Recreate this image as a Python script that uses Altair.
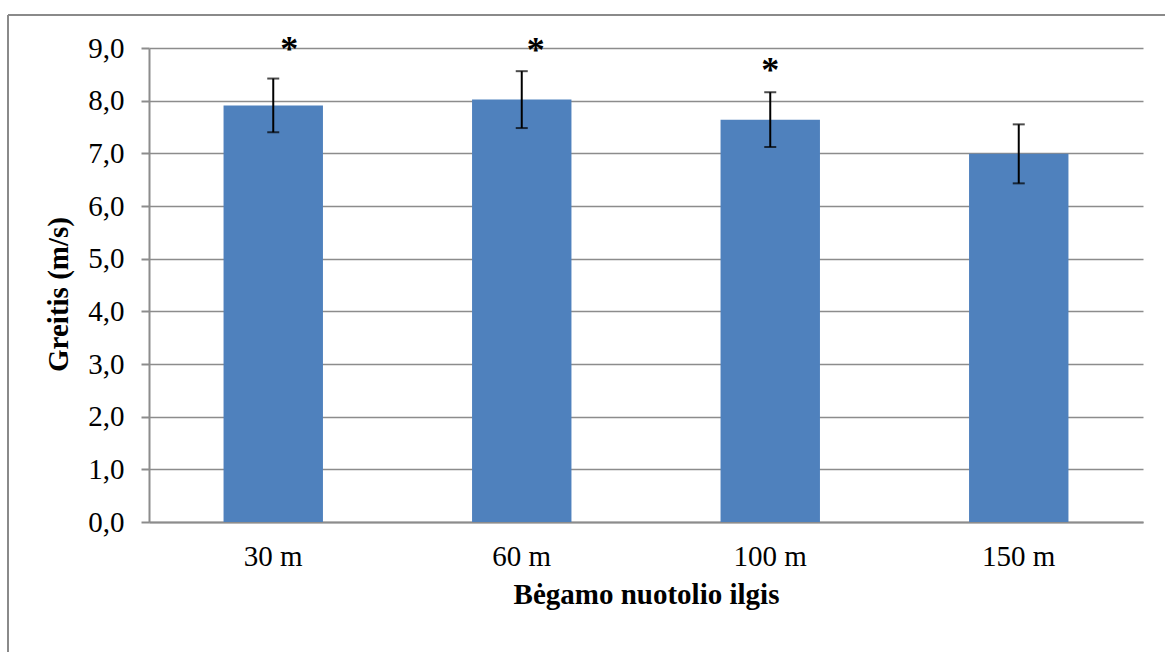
import altair as alt
import pandas as pd

categories = ["30 m", "60 m", "100 m", "150 m"]
means = [7.91, 8.02, 7.64, 6.99]
errors = [0.51, 0.54, 0.52, 0.56]
star_labels = ["*", "*", "*", ""]
star_levels = [9.07, 9.05, 8.67, 0.0]
y_ticks = [0, 1, 2, 3, 4, 5, 6, 7, 8, 9]

df = pd.DataFrame({
    "cat": categories,
    "mean": means,
    "lo": [m - e for m, e in zip(means, errors)],
    "hi": [m + e for m, e in zip(means, errors)],
    "star": star_labels,
    "star_y": star_levels,
})

FONT = "Liberation Serif"
GRID = "#8c8c8c"
FS = 29

x_enc = alt.X(
    "cat:N",
    sort=categories,
    scale=alt.Scale(paddingInner=0.6, paddingOuter=0.3),
    axis=alt.Axis(
        title="Bėgamo nuotolio ilgis",
        labelAngle=0,
        ticks=False,
        labelPadding=20,
        labelFontSize=FS,
        labelFont=FONT,
        labelColor="black",
        titleFont=FONT,
        titleFontSize=FS,
        titleFontWeight="bold",
        titleColor="black",
        titlePadding=9,
        domainColor=GRID,
        domainWidth=2,
        grid=False,
    ),
)

y_scale = alt.Scale(domain=[0, 9], nice=False, zero=True)

bars = alt.Chart(df).mark_bar(color="#4F81BD").encode(
    x=x_enc,
    y=alt.Y(
        "mean:Q",
        scale=y_scale,
        axis=alt.Axis(
            title="Greitis (m/s)",
            values=y_ticks,
            labelExpr="replace(format(datum.value, '.1f'), '.', ',')",
            labelFont=FONT,
            labelFontSize=FS,
            labelColor="black",
            labelPadding=17,
            tickSize=8,
            tickColor=GRID,
            tickWidth=2,
            domainColor=GRID,
            domainWidth=2,
            gridColor=GRID,
            gridWidth=1.5,
            titleFont=FONT,
            titleFontSize=FS,
            titleFontWeight="bold",
            titleColor="black",
            titlePadding=14,
            titleY=246,
        ),
    ),
)

err_rule = alt.Chart(df).mark_rule(color="black", strokeWidth=2).encode(
    x=alt.X("cat:N", sort=categories),
    y=alt.Y("lo:Q", scale=y_scale),
    y2="hi:Q",
)
cap_lo = alt.Chart(df).mark_tick(color="black", size=12, thickness=2).encode(
    x=alt.X("cat:N", sort=categories),
    y=alt.Y("lo:Q", scale=y_scale),
)
cap_hi = alt.Chart(df).mark_tick(color="black", size=12, thickness=2).encode(
    x=alt.X("cat:N", sort=categories),
    y=alt.Y("hi:Q", scale=y_scale),
)

star_shift = {"30 m": 16, "60 m": 14, "100 m": 0}
stars = []
for c, d in star_shift.items():
    stars.append(
        alt.Chart(df)
        .transform_filter(alt.datum.cat == c)
        .mark_text(font=FONT, fontSize=36, fontWeight="bold", color="black",
                   baseline="middle", dx=d, dy=6)
        .encode(
            x=alt.X("cat:N", sort=categories),
            y=alt.Y("star_y:Q", scale=y_scale),
            text="star:N",
        )
    )

frame_top = alt.Chart(df).mark_rule(color="#8a8a8a", strokeWidth=2, clip=False).encode(
    x=alt.value(-141), x2=alt.value(1100), y=alt.value(-33)
)
frame_left = alt.Chart(df).mark_rule(color="#8a8a8a", strokeWidth=2, clip=False).encode(
    x=alt.value(-141), y=alt.value(-33), y2=alt.value(700)
)

chart = alt.layer(bars, err_rule, cap_lo, cap_hi, *stars, frame_top, frame_left).properties(
    width=994,
    height=474,
    autosize=alt.AutoSizeParams(type="none"),
    padding={"left": 149, "top": 48, "right": 22, "bottom": 130},
    background="white",
).configure_view(stroke=None)

chart.save("out.html", embed_options={"renderer": "svg", "actions": False})
